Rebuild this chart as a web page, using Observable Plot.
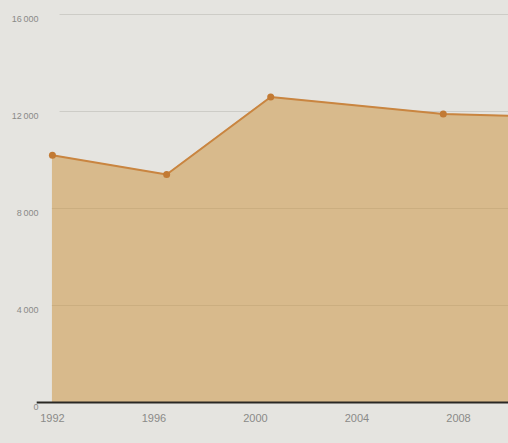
<!DOCTYPE html>
<html>
<head>
<meta charset="utf-8">
<script src="https://cdn.jsdelivr.net/npm/d3@7"></script>
<script src="https://cdn.jsdelivr.net/npm/@observablehq/plot@0.6"></script>
<style>
  html, body { margin: 0; padding: 0; background: #e5e4e0; }
  #chart { width: 508px; height: 443px; overflow: hidden; }
</style>
</head>
<body>
<div id="chart"></div>
<script>
const years = [1992, 1996.5, 2000.6, 2007.4, 2011];
const values = [10200, 9400, 12600, 11900, 11800];
const markerYears = [1992, 1996.5, 2000.6, 2007.4];
const markerValues = [10200, 9400, 12600, 11900];
const xTicks = [1992, 1996, 2000, 2004, 2008];
const yTicks = [0, 4000, 8000, 12000, 16000];

const data = years.map((y, i) => ({year: y, value: values[i]}));
const markers = markerYears.map((y, i) => ({year: y, value: markerValues[i]}));
const fmt = d => d3.format(",")(d).replace(/,/g, "\u202f");

const chart = Plot.plot({
  width: 508,
  height: 443,
  marginLeft: 40,
  marginRight: 0,
  marginTop: 14,
  marginBottom: 41,
  style: {background: "#e5e4e0", fontFamily: "Liberation Sans, sans-serif"},
  x: {domain: [1991.53, 2009.97], ticks: xTicks, tickFormat: d => String(d), tickSize: 0, tickPadding: 12, label: null},
  y: {domain: [0, 16000], ticks: yTicks, tickFormat: fmt, tickSize: 0, tickPadding: 4, label: null},
  marks: [
    Plot.ruleY(yTicks.filter(d => d > 0), {x1: 1992.3, x2: 2009.97, stroke: "#cdccc7", strokeWidth: 1}),
    Plot.areaY(data, {x: "year", y: "value", fill: "#d8ba8c", clip: true}),
    Plot.ruleY(yTicks.filter(d => d > 0 && d < 12000), {x1: 1992, x2: 2009.97, stroke: "#cbae80", strokeWidth: 1}),
    Plot.lineY(data, {x: "year", y: "value", stroke: "#c98540", strokeWidth: 2, clip: true}),
    Plot.dot(markers, {x: "year", y: "value", r: 3.5, fill: "#c27a34", stroke: "none"}),
    Plot.ruleY([0], {x1: 1991.4, x2: 2009.97, stroke: "#2a2824", strokeWidth: 2}),
    Plot.axisX({ticks: xTicks, tickFormat: d => String(d), tickSize: 0, tickPadding: 12, fill: "#8a8a88", fontSize: 11}),
    Plot.axisY({ticks: yTicks, tickFormat: fmt, tickSize: 0, tickPadding: 2, fill: "#8a8a88", fontSize: 9, dy: 5})
  ]
});
document.getElementById("chart").appendChild(chart);
</script>
</body>
</html>
